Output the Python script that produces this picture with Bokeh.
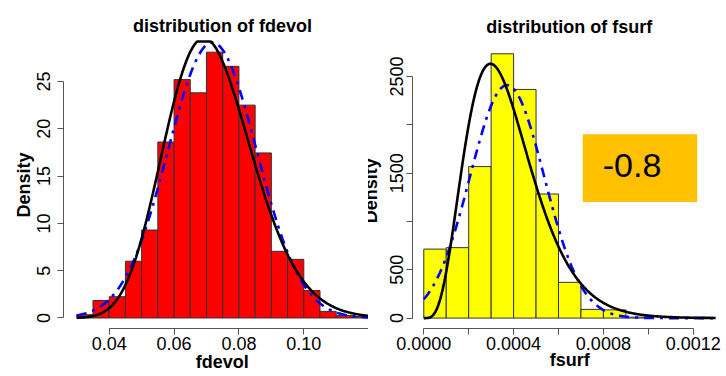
import math
import numpy as np
from bokeh.plotting import figure
from bokeh.layouts import row
from bokeh.models import Label, BoxAnnotation, FixedTicker, LinearAxis
from bokeh.embed import file_html
from bokeh.resources import INLINE

FONT = "Liberation Sans"

# ---- fdevol: histogram (density per bin) and fitted distributions ----
fdevol_edges = [0.030, 0.035, 0.040, 0.045, 0.050, 0.055, 0.060, 0.065, 0.070, 0.075,
                0.080, 0.085, 0.090, 0.095, 0.100, 0.105, 0.110, 0.115, 0.120]
fdevol_density = [0.35, 1.85, 2.25, 6.0, 9.3, 18.6, 25.2, 23.8, 28.1, 26.6,
                  22.5, 17.45, 7.05, 6.2, 2.9, 0.7, 0.26, 0.16]
fdevol_norm = (0.0718, 0.0137)      # mean, sd
fdevol_gamma = (27.5, 383.0)        # shape, rate
fdevol_curve_span = (0.03, 0.12)

fdevol_xticks = [0.04, 0.06, 0.08, 0.10, 0.12]
fdevol_xlabels = ["0.04", "0.06", "0.08", "0.10", "0.12"]
fdevol_yticks = [0, 5, 10, 15, 20, 25]
fdevol_ylabels = ["0", "5", "10", "15", "20", "25"]

# ---- fsurf: histogram (density per bin) and fitted distributions ----
fsurf_edges = [0.0000, 0.0001, 0.0002, 0.0003, 0.0004, 0.0005, 0.0006,
               0.0007, 0.0008, 0.0009, 0.0010]
fsurf_density = [714, 729, 1568, 2735, 2366, 1284, 370, 90, 85, 10]
fsurf_norm = (0.000371, 0.0001655)  # mean, sd
fsurf_gamma = (5.0, 13470.0)        # shape, rate
fsurf_curve_span = (0.0, 0.0013)

fsurf_xticks = [0.0, 0.0002, 0.0004, 0.0006, 0.0008, 0.0010, 0.0012]
fsurf_xlabels = ["0.0000", "", "0.0004", "", "0.0008", "", "0.0012"]
fsurf_yticks = [0, 500, 1000, 1500, 2000, 2500]
fsurf_ylabels = ["0", "500", "", "1500", "", "2500"]

corr_text = "-0.8"


def normal_pdf(x, mean, sd):
    return np.exp(-0.5 * ((x - mean) / sd) ** 2) / (sd * math.sqrt(2 * math.pi))


def gamma_pdf(x, shape, rate):
    out = np.zeros_like(x)
    pos = x > 0
    xs = x[pos]
    out[pos] = np.exp(shape * math.log(rate) + (shape - 1) * np.log(xs)
                      - rate * xs - math.lgamma(shape))
    return out


def make_panel(width, borders, x_range, y_range, ytick_standoff):
    left, right, top, bottom = borders
    p = figure(width=width, height=376, x_range=x_range, y_range=y_range,
               output_backend="svg", toolbar_location=None, title=None,
               min_border_left=left, min_border_right=right,
               min_border_top=top, min_border_bottom=bottom)
    p.grid.visible = False
    p.outline_line_color = None
    p.background_fill_color = "white"
    p.border_fill_color = "white"
    for ax in (p.xaxis[0], p.yaxis[0]):
        ax.axis_line_color = "#555555"
        ax.major_tick_line_color = "#555555"
        ax.major_tick_out = 6
        ax.major_tick_in = 0
        ax.minor_tick_line_color = None
        ax.major_label_text_font = FONT
        ax.major_label_text_font_size = "18px"
        ax.major_label_text_color = "black"
    p.xaxis.major_label_standoff = 2
    p.yaxis.major_label_standoff = ytick_standoff
    p.yaxis.major_label_orientation = "parallel"
    return p


def data_x(p, sx):
    """Figure-local pixel column -> data x."""
    w = p.width - p.min_border_left - p.min_border_right
    return p.x_range.start + (sx - p.min_border_left) / w * (p.x_range.end - p.x_range.start)


def data_y(p, sy):
    """Figure-local pixel row -> data y."""
    h = p.height - p.min_border_top - p.min_border_bottom
    return p.y_range.end - (sy - p.min_border_top) / h * (p.y_range.end - p.y_range.start)


def text_axis(p, side, loc, text, standoff):
    """A bare axis carrying one bold label (axis title)."""
    ax = LinearAxis(ticker=FixedTicker(ticks=[loc]))
    ax.major_label_overrides = {loc: text}
    ax.axis_line_color = None
    ax.major_tick_line_color = None
    ax.minor_tick_line_color = None
    ax.major_tick_out = 0
    ax.major_tick_in = 0
    ax.major_label_standoff = standoff
    ax.major_label_text_font = FONT
    ax.major_label_text_font_size = "18px"
    ax.major_label_text_font_style = "bold"
    ax.major_label_text_color = "black"
    if side in ("left", "right"):
        ax.major_label_orientation = "parallel"
    p.add_layout(ax, side)


def add_title(p, sx, sy, text):
    p.add_layout(Label(x=data_x(p, sx), y=data_y(p, sy), text=text,
                       text_font=FONT, text_font_size="18px", text_font_style="bold",
                       text_color="black", text_align="center",
                       text_baseline="alphabetic"))


def draw_hist_and_fits(p, edges, dens, color, norm, gam, span):
    p.quad(left=edges[:-1], right=edges[1:], bottom=0, top=dens,
           fill_color=color, line_color="#333333", line_width=1)
    # plot region ends 4% above the tallest bar; the fitted curves stop there
    ceiling = max(dens) * 1.04
    xs = np.linspace(span[0], span[1], 400)
    p.line(xs, np.minimum(normal_pdf(xs, *norm), ceiling), line_color="#0000FF",
           line_width=2.6, line_dash="10 6 3 6")
    p.line(xs, np.minimum(gamma_pdf(xs, *gam), ceiling), line_color="black",
           line_width=2.6)


# ---------------- left panel: fdevol ----------------
p1 = make_panel(368, (63, 0, 0, 48), (0.02591, 0.11995), (-1.11, 33.56), ytick_standoff=7)
draw_hist_and_fits(p1, fdevol_edges, fdevol_density, "#FF0000",
                   fdevol_norm, fdevol_gamma, fdevol_curve_span)
p1.xaxis.ticker = FixedTicker(ticks=fdevol_xticks)
p1.xaxis.major_label_overrides = dict(zip(fdevol_xticks, fdevol_xlabels))
p1.xaxis.bounds = (fdevol_xticks[0], fdevol_xticks[-1])
p1.yaxis.ticker = FixedTicker(ticks=fdevol_yticks)
p1.yaxis.major_label_overrides = dict(zip(fdevol_yticks, fdevol_ylabels))
p1.yaxis.bounds = (fdevol_yticks[0], fdevol_yticks[-1])
add_title(p1, 222, 25, "distribution of fdevol")
text_axis(p1, "below", data_x(p1, 221.7), "fdevol", -1)
text_axis(p1, "left", data_y(p1, 184.4), "Density", 0)
# the left panel sits on top of the right one where they meet
p1.styles = {"z-index": "2", "position": "relative"}

# ---------------- right panel: fsurf ----------------
p2 = make_panel(370, (56, 0, 0, 45), (-0.0000503, 0.0013483), (-107.7, 3286.5),
                ytick_standoff=3)
draw_hist_and_fits(p2, fsurf_edges, fsurf_density, "#FFFF00",
                   fsurf_norm, fsurf_gamma, fsurf_curve_span)
p2.xaxis.ticker = FixedTicker(ticks=fsurf_xticks)
p2.xaxis.major_label_overrides = dict(zip(fsurf_xticks, fsurf_xlabels))
p2.xaxis.bounds = (fsurf_xticks[0], fsurf_xticks[-1])
p2.yaxis.ticker = FixedTicker(ticks=fsurf_yticks)
p2.yaxis.major_label_overrides = dict(zip(fsurf_yticks, fsurf_ylabels))
p2.yaxis.bounds = (fsurf_yticks[0], fsurf_yticks[-1])
add_title(p2, 568.8 - 356, 26.7, "distribution of fsurf")
text_axis(p2, "below", data_x(p2, 569.3 - 356), "fsurf", -3)
text_axis(p2, "left", data_y(p2, 192.0), "Density", 6)
p2.margin = (0, 0, 0, -12)

# correlation badge
p2.add_layout(BoxAnnotation(left=data_x(p2, 582.3 - 356), right=data_x(p2, 696.7 - 356),
                            top=data_y(p2, 135.0), bottom=data_y(p2, 203.3),
                            fill_color="#FFC000", fill_alpha=1.0, line_color=None))
p2.add_layout(Label(x=data_x(p2, 602.3 - 356), y=data_y(p2, 166.7), text=corr_text,
                    text_font=FONT, text_font_size="34px", text_color="black",
                    text_align="left", text_baseline="middle"))

layout = row(p1, p2, spacing=0)
open("out.html", "w").write(file_html(layout, INLINE))
